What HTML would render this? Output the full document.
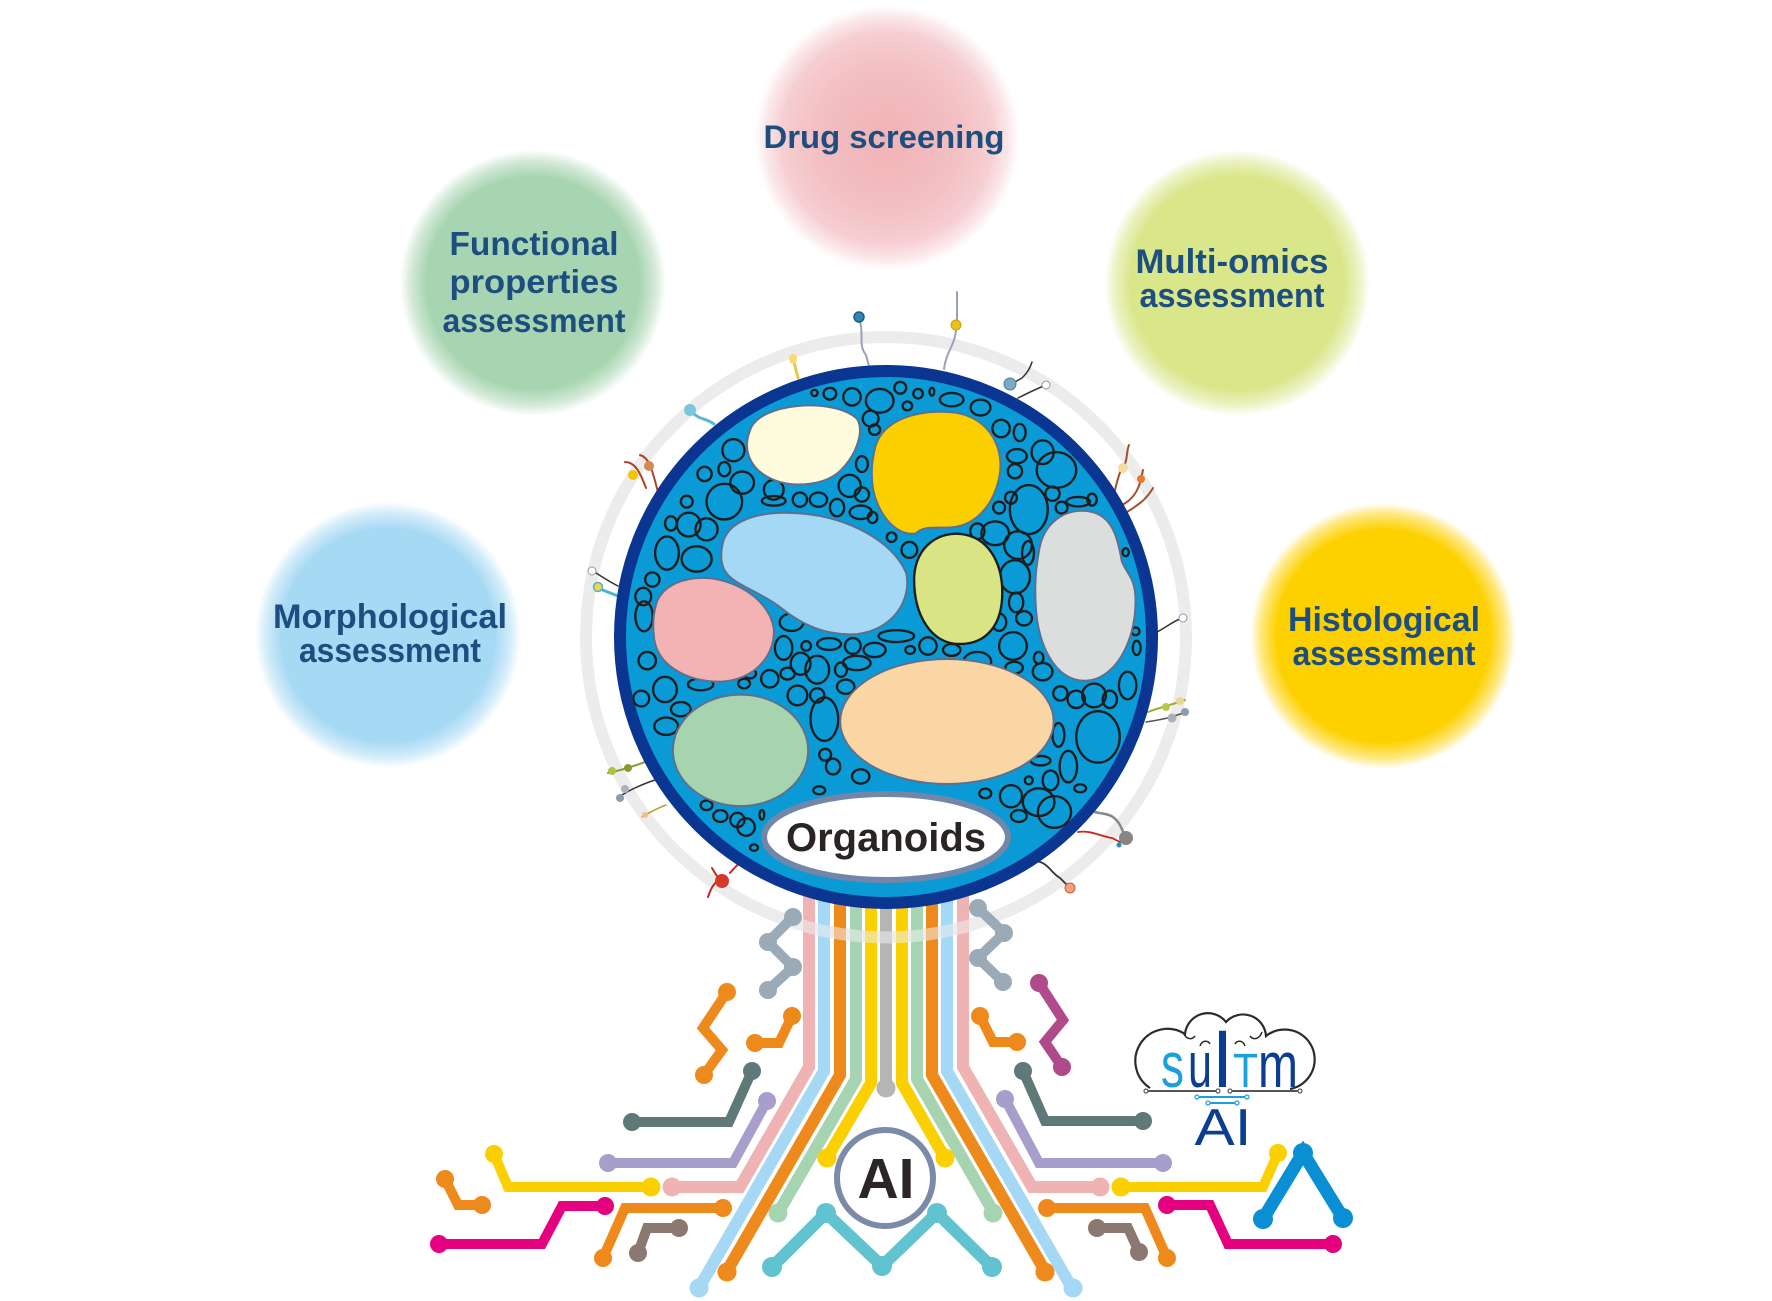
<!DOCTYPE html>
<html><head><meta charset="utf-8"><style>
html,body{margin:0;padding:0;background:#fff;}
svg{display:block;}
.t{font-family:"Liberation Sans",sans-serif;font-weight:bold;fill:#1c4e7f;text-anchor:middle;}
</style></head><body>
<svg width="1772" height="1301" viewBox="0 0 1772 1301" xmlns="http://www.w3.org/2000/svg">
<defs>
<radialGradient id="gDrug"><stop offset="0" stop-color="#f1b2b6"/><stop offset="0.55" stop-color="#f3c0c3"/><stop offset="0.8" stop-color="#f6cfd2"/><stop offset="0.92" stop-color="#f8dadd" stop-opacity="0.6"/><stop offset="1" stop-color="#fae4e6" stop-opacity="0"/></radialGradient>
<radialGradient id="gFun"><stop offset="0" stop-color="#a8d5b1"/><stop offset="0.8" stop-color="#a8d5b1"/><stop offset="0.92" stop-color="#a8d5b1" stop-opacity="0.5"/><stop offset="1" stop-color="#a8d5b1" stop-opacity="0"/></radialGradient>
<radialGradient id="gMul"><stop offset="0" stop-color="#d9e689"/><stop offset="0.8" stop-color="#d9e689"/><stop offset="0.92" stop-color="#d9e689" stop-opacity="0.5"/><stop offset="1" stop-color="#d9e689" stop-opacity="0"/></radialGradient>
<radialGradient id="gMor"><stop offset="0" stop-color="#a6d9f4"/><stop offset="0.8" stop-color="#a6d9f4"/><stop offset="0.92" stop-color="#a6d9f4" stop-opacity="0.5"/><stop offset="1" stop-color="#a6d9f4" stop-opacity="0"/></radialGradient>
<radialGradient id="gHis"><stop offset="0" stop-color="#fdd100"/><stop offset="0.8" stop-color="#fdd100"/><stop offset="0.92" stop-color="#fdd100" stop-opacity="0.5"/><stop offset="1" stop-color="#fdd100" stop-opacity="0"/></radialGradient>
<clipPath id="disk"><circle cx="886" cy="637" r="261"/></clipPath>
</defs>
<rect width="1772" height="1301" fill="#fff"/>

<!-- bubbles -->
<circle cx="887" cy="138" r="133" fill="url(#gDrug)"/>
<circle cx="533" cy="283" r="133" fill="url(#gFun)"/>
<circle cx="1237" cy="283" r="133" fill="url(#gMul)"/>
<circle cx="388" cy="635" r="133" fill="url(#gMor)"/>
<circle cx="1383" cy="636" r="133" fill="url(#gHis)"/>

<text class="t" x="884" y="148" font-size="32" textLength="241" lengthAdjust="spacingAndGlyphs">Drug screening</text>
<text class="t" x="534" y="255" font-size="33" textLength="169" lengthAdjust="spacingAndGlyphs">Functional</text>
<text class="t" x="534" y="293" font-size="33" textLength="169" lengthAdjust="spacingAndGlyphs">properties</text>
<text class="t" x="534" y="332" font-size="33" textLength="183" lengthAdjust="spacingAndGlyphs">assessment</text>
<text class="t" x="1232" y="273" font-size="34" textLength="193" lengthAdjust="spacingAndGlyphs">Multi-omics</text>
<text class="t" x="1232" y="307" font-size="34" textLength="185" lengthAdjust="spacingAndGlyphs">assessment</text>
<text class="t" x="390" y="628" font-size="34" textLength="234" lengthAdjust="spacingAndGlyphs">Morphological</text>
<text class="t" x="390" y="662" font-size="34" textLength="182" lengthAdjust="spacingAndGlyphs">assessment</text>
<text class="t" x="1384" y="631" font-size="34" textLength="192" lengthAdjust="spacingAndGlyphs">Histological</text>
<text class="t" x="1384" y="665" font-size="34" textLength="183" lengthAdjust="spacingAndGlyphs">assessment</text>

<!-- outer gray ring -->
<circle cx="886" cy="637" r="300" fill="none" stroke="#ececec" stroke-width="12"/>

<!-- cilia -->
<g stroke-linecap="round" fill="none">
<path d="M860,322 C864,335 858,345 866,355 L869,366" stroke="#9aa3b2" stroke-width="2"/>
<circle cx="859" cy="317" r="5" fill="#2e86b5" stroke="#1a5e86" stroke-width="1.5"/>
<path d="M957,292 L957,320 M956,330 C955,345 946,352 944,369" stroke="#9aa3b2" stroke-width="2"/>
<circle cx="956" cy="325" r="5" fill="#e8c21a" stroke="#c9a010" stroke-width="1"/>
<path d="M794,362 L798,378" stroke="#e8c64a" stroke-width="3"/>
<ellipse cx="793" cy="359" rx="4" ry="5" fill="#f6dc6c"/>
<path d="M693,413 C700,420 706,418 714,424" stroke="#5bb6d4" stroke-width="3"/>
<circle cx="690" cy="410" r="6" fill="#7cc6dc"/>
<path d="M625,462 C635,462 640,472 646,488 M640,455 C650,458 652,470 658,492" stroke="#b2402a" stroke-width="2"/>
<circle cx="633" cy="475" r="5" fill="#f5c400"/><circle cx="649" cy="466" r="5" fill="#d08a4a"/>
<path d="M596,573 C604,578 610,582 618,586" stroke="#333" stroke-width="1.5"/>
<circle cx="592" cy="571" r="4" fill="#fff" stroke="#999"/>
<path d="M600,589 L618,596" stroke="#4db3d6" stroke-width="3"/>
<circle cx="598" cy="587" r="4.5" fill="#f3d34a" stroke="#4db3d6" stroke-width="1.5"/>
<path d="M1015,382 L1022,378 C1028,372 1030,368 1032,362" stroke="#3a3030" stroke-width="1.5"/>
<circle cx="1010" cy="384" r="6" fill="#7aaac4" stroke="#4b7f9f"/>
<path d="M1018,398 C1030,392 1038,388 1044,386" stroke="#333" stroke-width="1.5"/>
<circle cx="1046" cy="385" r="4" fill="#fff" stroke="#999"/>
<path d="M1115,490 C1118,478 1120,470 1123,468 C1128,460 1126,452 1129,445 M1122,505 C1132,500 1138,492 1141,479 L1143,470 M1127,512 C1138,505 1146,500 1153,488" stroke="#a0502a" stroke-width="2"/>
<circle cx="1123" cy="468" r="5" fill="#f3dca0"/><circle cx="1141" cy="479" r="4" fill="#e57c2c"/>
<path d="M1157,632 C1165,628 1172,622 1180,619" stroke="#333" stroke-width="1.5"/>
<circle cx="1183" cy="618" r="4" fill="#fff" stroke="#999"/>
<path d="M1148,712 C1158,708 1168,706 1185,700" stroke="#9cae3c" stroke-width="2"/>
<circle cx="1166" cy="707" r="4" fill="#b8c84a"/><circle cx="1180" cy="701" r="4" fill="#e8d890"/>
<path d="M1146,722 C1160,720 1170,718 1186,712" stroke="#555" stroke-width="1.5"/>
<circle cx="1172" cy="718" r="4.5" fill="#aab0bc"/><circle cx="1185" cy="712" r="4" fill="#8e9aae"/>
<path d="M1095,812 C1105,815 1112,812 1120,825 L1126,838" stroke="#888" stroke-width="2.5"/>
<circle cx="1126" cy="838" r="7" fill="#8a8585"/>
<path d="M1078,832 C1090,830 1100,836 1112,838 L1120,842" stroke="#c8281e" stroke-width="1.8"/>
<circle cx="1119" cy="845" r="2.5" fill="#1c8ed0"/>
<path d="M1035,861 C1048,862 1050,872 1060,878 L1068,886" stroke="#333" stroke-width="1.8"/>
<circle cx="1070" cy="888" r="5" fill="#f4a07a" stroke="#c0603a"/>
<path d="M708,897 C712,885 716,880 722,881 M730,873 C736,866 740,862 745,860 M712,868 C716,875 718,878 722,881" stroke="#c8281e" stroke-width="2"/>
<circle cx="722" cy="881" r="7" fill="#d6382a"/>
<path d="M608,773 C618,771 630,768 650,760" stroke="#8b9a30" stroke-width="2"/>
<circle cx="612" cy="771" r="4" fill="#b0c040"/><circle cx="628" cy="768" r="4" fill="#8b9a30"/>
<path d="M622,795 C630,790 640,785 655,780" stroke="#333" stroke-width="1.5"/>
<circle cx="625" cy="789" r="4" fill="#aab2c0"/><circle cx="620" cy="798" r="4" fill="#8e9aae"/>
<path d="M642,817 C650,812 658,808 666,805" stroke="#b8a030" stroke-width="1.5"/>
<circle cx="645" cy="815" r="3" fill="#f0c088"/>
</g>

<!-- main bundle -->
<g fill="none" stroke-width="12" stroke-linejoin="miter">
<path d="M809,880 V1067 L740,1187 H672" stroke="#f0b3b3"/>
<path d="M824,880 V1071 L699,1288" stroke="#a5d8f4"/>
<path d="M840,880 V1075 L727,1271" stroke="#ee8a1c"/>
<path d="M856,880 V1079 L778,1213" stroke="#a7d4b0"/>
<path d="M871,880 V1083 L827,1158" stroke="#fbd000"/>
<path d="M886,880 V1088" stroke="#b5b5b5"/>
<path d="M902,880 V1083 L945,1158" stroke="#fbd000"/>
<path d="M917,880 V1079 L994,1213" stroke="#a7d4b0"/>
<path d="M932,880 V1075 L1045,1271" stroke="#ee8a1c"/>
<path d="M947,880 V1071 L1072,1288" stroke="#a5d8f4"/>
<path d="M963,880 V1067 L1032,1187 H1100" stroke="#f0b3b3"/>
</g>
<g>
<circle cx="672" cy="1187" r="9.5" fill="#f0b3b3"/>
<circle cx="699" cy="1288" r="9.5" fill="#a5d8f4"/>
<circle cx="727" cy="1272" r="9.5" fill="#ee8a1c"/>
<circle cx="778" cy="1213" r="9.5" fill="#a7d4b0"/>
<circle cx="827" cy="1158" r="9.5" fill="#fbd000"/>
<circle cx="886" cy="1088" r="9.5" fill="#b5b5b5"/>
<circle cx="945" cy="1158" r="9.5" fill="#fbd000"/>
<circle cx="993" cy="1213" r="9.5" fill="#a7d4b0"/>
<circle cx="1045" cy="1272" r="9.5" fill="#ee8a1c"/>
<circle cx="1073" cy="1288" r="9.5" fill="#a5d8f4"/>
<circle cx="1100" cy="1187" r="9.5" fill="#f0b3b3"/>
</g>
<!-- ring overlay across bundle -->
<path d="M780,918 A300 300 0 0 0 992,918" fill="none" stroke="#eeeeee" stroke-opacity="0.55" stroke-width="12"/>

<!-- other circuit traces -->
<g fill="none" stroke-width="10" stroke-linejoin="miter">
<path d="M793,917 L768,942 L793,967 L768,990" stroke="#9aabb7"/>
<path d="M727,992 L703,1028 L722,1050 L704,1075" stroke="#ee8a1c"/>
<path d="M792,1016 L779,1043 H755" stroke="#ee8a1c"/>
<path d="M752,1071 L729,1122 H632" stroke="#5e7977"/>
<path d="M767,1101 L733,1163 H608" stroke="#a89ecb"/>
<path d="M494,1154 L508,1187 H651" stroke="#fbd000"/>
<path d="M445,1179 L458,1205 H482" stroke="#ee8a1c"/>
<path d="M605,1206 H562 L542,1244 H439" stroke="#e4007f"/>
<path d="M723,1208 H625 L603,1258" stroke="#ee8a1c"/>
<path d="M679,1228 H647 L638,1253" stroke="#8b7870"/>
<path d="M772,1267 L826,1213 L882,1266 L937,1213 L992,1267" stroke="#62c3d0" stroke-width="12"/>
<path d="M978,908 L1004,933 L978,958 L1003,982" stroke="#9aabb7"/>
<path d="M1039,983 L1063,1020 L1045,1042 L1062,1067" stroke="#b04a8a"/>
<path d="M980,1016 L993,1042 H1017" stroke="#ee8a1c"/>
<path d="M1023,1071 L1045,1121 H1143" stroke="#5e7977"/>
<path d="M1005,1099 L1039,1163 H1163" stroke="#a89ecb"/>
<path d="M1121,1187 H1263 L1278,1153" stroke="#fbd000"/>
<path d="M1263,1219 L1303,1153 L1343,1218" stroke="#0a8fd4" stroke-width="13"/>
<path d="M1047,1208 H1145 L1167,1258" stroke="#ee8a1c"/>
<path d="M1167,1205 H1210 L1228,1244 H1333" stroke="#e4007f"/>
<path d="M1097,1228 H1128 L1139,1252" stroke="#8b7870"/>
</g>
<g>
<g fill="#9aabb7"><circle cx="793" cy="917" r="9"/><circle cx="768" cy="942" r="9"/><circle cx="793" cy="967" r="9"/><circle cx="768" cy="990" r="9"/>
<circle cx="978" cy="908" r="9"/><circle cx="1004" cy="933" r="9"/><circle cx="978" cy="958" r="9"/><circle cx="1003" cy="982" r="9"/></g>
<g fill="#ee8a1c"><circle cx="727" cy="992" r="9"/><circle cx="704" cy="1075" r="9"/><circle cx="792" cy="1016" r="9"/><circle cx="755" cy="1043" r="9"/>
<circle cx="445" cy="1179" r="9"/><circle cx="482" cy="1205" r="9"/><circle cx="723" cy="1208" r="9"/><circle cx="603" cy="1258" r="9"/>
<circle cx="980" cy="1016" r="9"/><circle cx="1017" cy="1042" r="9"/><circle cx="1047" cy="1208" r="9"/><circle cx="1167" cy="1258" r="9"/></g>
<g fill="#5e7977"><circle cx="752" cy="1071" r="9"/><circle cx="632" cy="1122" r="9"/><circle cx="1023" cy="1071" r="9"/><circle cx="1143" cy="1121" r="9"/></g>
<g fill="#a89ecb"><circle cx="767" cy="1101" r="9"/><circle cx="608" cy="1163" r="9"/><circle cx="1005" cy="1099" r="9"/><circle cx="1163" cy="1163" r="9"/></g>
<g fill="#fbd000"><circle cx="494" cy="1154" r="9"/><circle cx="651" cy="1187" r="9.5"/><circle cx="1121" cy="1187" r="9.5"/><circle cx="1278" cy="1153" r="9"/></g>
<g fill="#e4007f"><circle cx="605" cy="1206" r="9"/><circle cx="439" cy="1244" r="9"/><circle cx="1167" cy="1205" r="9"/><circle cx="1333" cy="1244" r="9"/></g>
<g fill="#8b7870"><circle cx="679" cy="1228" r="9"/><circle cx="638" cy="1253" r="9"/><circle cx="1097" cy="1228" r="9"/><circle cx="1139" cy="1252" r="9"/></g>
<g fill="#b04a8a"><circle cx="1039" cy="983" r="9"/><circle cx="1062" cy="1067" r="9"/></g>
<g fill="#62c3d0"><circle cx="772" cy="1267" r="10"/><circle cx="826" cy="1213" r="10"/><circle cx="882" cy="1266" r="10"/><circle cx="937" cy="1213" r="10"/><circle cx="992" cy="1267" r="10"/></g>
<g fill="#0a8fd4"><circle cx="1263" cy="1219" r="10"/><circle cx="1303" cy="1153" r="10"/><circle cx="1343" cy="1218" r="10"/></g>
</g>

<!-- AI ring -->
<circle cx="885" cy="1178" r="48" fill="#fff" stroke="#7a8aa8" stroke-width="6"/>
<text x="886" y="1198" font-family="Liberation Sans, sans-serif" font-weight="bold" font-size="57" fill="#2b2625" text-anchor="middle" textLength="57" lengthAdjust="spacingAndGlyphs">AI</text>

<!-- main organoid disk -->
<circle cx="886" cy="637" r="266" fill="#0a9ad6" stroke="#0a3590" stroke-width="12"/>
<g clip-path="url(#disk)">
<g transform="translate(580,300) scale(0.3954)">
<g fill="none" stroke="#1e1e1e" stroke-width="6">
<ellipse cx="593" cy="235" rx="8" ry="8"/><ellipse cx="632" cy="237" rx="16" ry="15"/><ellipse cx="688" cy="245" rx="22" ry="22"/><ellipse cx="758" cy="255" rx="35" ry="30"/><ellipse cx="810" cy="222" rx="15" ry="15"/><ellipse cx="828" cy="268" rx="12" ry="11"/><ellipse cx="855" cy="237" rx="12" ry="12"/><ellipse cx="890" cy="232" rx="6" ry="10"/><ellipse cx="940" cy="252" rx="30" ry="17"/><ellipse cx="1013" cy="272" rx="25" ry="20"/><ellipse cx="735" cy="300" rx="20" ry="20"/><ellipse cx="745" cy="328" rx="14" ry="13"/>
<ellipse cx="388" cy="380" rx="28" ry="28"/><ellipse cx="365" cy="428" rx="15" ry="18"/><ellipse cx="315" cy="440" rx="18" ry="18"/><ellipse cx="410" cy="462" rx="30" ry="28"/><ellipse cx="490" cy="480" rx="25" ry="25"/><ellipse cx="490" cy="508" rx="30" ry="12"/><ellipse cx="365" cy="510" rx="45" ry="45"/><ellipse cx="270" cy="510" rx="15" ry="15"/><ellipse cx="230" cy="565" rx="15" ry="18"/><ellipse cx="275" cy="568" rx="30" ry="30"/><ellipse cx="320" cy="580" rx="28" ry="28"/><ellipse cx="220" cy="640" rx="30" ry="42"/><ellipse cx="295" cy="655" rx="38" ry="32"/><ellipse cx="183" cy="707" rx="18" ry="18"/><ellipse cx="160" cy="750" rx="20" ry="22"/><ellipse cx="162" cy="800" rx="22" ry="38"/><ellipse cx="170" cy="912" rx="22" ry="22"/><ellipse cx="155" cy="1008" rx="20" ry="20"/><ellipse cx="215" cy="985" rx="30" ry="32"/><ellipse cx="255" cy="1035" rx="25" ry="18"/><ellipse cx="218" cy="1078" rx="30" ry="22"/>
<ellipse cx="713" cy="415" rx="15" ry="20"/><ellipse cx="682" cy="470" rx="28" ry="28"/><ellipse cx="713" cy="492" rx="18" ry="18"/><ellipse cx="650" cy="525" rx="18" ry="22"/><ellipse cx="556" cy="505" rx="18" ry="18"/><ellipse cx="603" cy="505" rx="22" ry="18"/><ellipse cx="710" cy="537" rx="28" ry="17"/><ellipse cx="740" cy="550" rx="12" ry="14"/>
<ellipse cx="1065" cy="325" rx="22" ry="22"/><ellipse cx="1112" cy="335" rx="15" ry="22"/><ellipse cx="1105" cy="395" rx="25" ry="18"/><ellipse cx="1100" cy="433" rx="18" ry="18"/><ellipse cx="1170" cy="385" rx="28" ry="30"/><ellipse cx="1205" cy="430" rx="50" ry="45"/><ellipse cx="1195" cy="490" rx="18" ry="18"/><ellipse cx="1218" cy="525" rx="15" ry="15"/><ellipse cx="1260" cy="510" rx="30" ry="12"/><ellipse cx="1295" cy="505" rx="12" ry="15"/><ellipse cx="1090" cy="500" rx="15" ry="15"/><ellipse cx="1135" cy="530" rx="48" ry="62"/><ellipse cx="1060" cy="525" rx="15" ry="15"/><ellipse cx="1050" cy="590" rx="35" ry="30"/><ellipse cx="1005" cy="585" rx="18" ry="20"/><ellipse cx="1108" cy="620" rx="35" ry="35"/><ellipse cx="1133" cy="640" rx="15" ry="30"/><ellipse cx="1100" cy="700" rx="38" ry="42"/><ellipse cx="1103" cy="765" rx="18" ry="25"/><ellipse cx="1060" cy="815" rx="18" ry="22"/><ellipse cx="1123" cy="805" rx="20" ry="18"/><ellipse cx="1095" cy="875" rx="35" ry="35"/><ellipse cx="1160" cy="905" rx="12" ry="15"/><ellipse cx="1098" cy="930" rx="22" ry="15"/><ellipse cx="1170" cy="940" rx="25" ry="22"/><ellipse cx="1380" cy="638" rx="8" ry="10"/><ellipse cx="1405" cy="838" rx="10" ry="10"/><ellipse cx="1408" cy="880" rx="10" ry="18"/>
<ellipse cx="788" cy="600" rx="12" ry="12"/><ellipse cx="833" cy="632" rx="20" ry="20"/><ellipse cx="535" cy="815" rx="30" ry="22"/><ellipse cx="515" cy="880" rx="22" ry="30"/><ellipse cx="572" cy="875" rx="12" ry="12"/><ellipse cx="630" cy="870" rx="30" ry="15"/><ellipse cx="690" cy="875" rx="20" ry="20"/><ellipse cx="745" cy="885" rx="28" ry="18"/><ellipse cx="800" cy="850" rx="45" ry="15"/><ellipse cx="835" cy="885" rx="12" ry="10"/><ellipse cx="880" cy="875" rx="22" ry="22"/><ellipse cx="940" cy="885" rx="22" ry="15"/><ellipse cx="1005" cy="915" rx="35" ry="25"/><ellipse cx="558" cy="920" rx="25" ry="28"/><ellipse cx="600" cy="935" rx="30" ry="35"/><ellipse cx="660" cy="935" rx="15" ry="18"/><ellipse cx="700" cy="918" rx="35" ry="18"/><ellipse cx="525" cy="945" rx="18" ry="15"/><ellipse cx="480" cy="958" rx="22" ry="22"/><ellipse cx="430" cy="945" rx="15" ry="12"/><ellipse cx="415" cy="970" rx="15" ry="12"/><ellipse cx="305" cy="972" rx="32" ry="15"/><ellipse cx="550" cy="1000" rx="25" ry="25"/><ellipse cx="600" cy="1000" rx="18" ry="18"/><ellipse cx="672" cy="978" rx="22" ry="18"/><ellipse cx="618" cy="1060" rx="35" ry="55"/><ellipse cx="620" cy="1150" rx="15" ry="15"/><ellipse cx="640" cy="1180" rx="18" ry="20"/><ellipse cx="710" cy="1205" rx="22" ry="18"/><ellipse cx="605" cy="1240" rx="15" ry="10"/>
<ellipse cx="1215" cy="995" rx="18" ry="18"/><ellipse cx="1255" cy="1010" rx="22" ry="22"/><ellipse cx="1300" cy="1000" rx="30" ry="30"/><ellipse cx="1340" cy="1010" rx="18" ry="22"/><ellipse cx="1385" cy="975" rx="22" ry="35"/><ellipse cx="1210" cy="1100" rx="15" ry="30"/><ellipse cx="1310" cy="1105" rx="55" ry="65"/><ellipse cx="1165" cy="1165" rx="25" ry="12"/><ellipse cx="1190" cy="1215" rx="20" ry="25"/><ellipse cx="1135" cy="1215" rx="10" ry="10"/><ellipse cx="1235" cy="1180" rx="22" ry="40"/><ellipse cx="1090" cy="1255" rx="28" ry="28"/><ellipse cx="1025" cy="1248" rx="15" ry="12"/><ellipse cx="1160" cy="1270" rx="40" ry="35"/><ellipse cx="1200" cy="1295" rx="42" ry="40"/><ellipse cx="1265" cy="1235" rx="15" ry="10"/><ellipse cx="1110" cy="1305" rx="20" ry="15"/>
<ellipse cx="320" cy="1278" rx="15" ry="12"/><ellipse cx="355" cy="1305" rx="18" ry="15"/><ellipse cx="398" cy="1315" rx="18" ry="18"/><ellipse cx="420" cy="1333" rx="22" ry="22"/><ellipse cx="460" cy="1302" rx="6" ry="12"/><ellipse cx="440" cy="1385" rx="10" ry="8"/>
</g>
<g stroke="#5f6f8e" stroke-width="5">
<path d="M430,330 C450,260 640,245 700,300 C720,330 700,390 660,430 C620,470 540,475 490,455 C430,430 410,380 430,330 Z" fill="#fffbdd"/>
<path d="M745,380 C760,300 860,275 950,285 C1040,300 1075,380 1060,450 C1045,520 1000,570 940,575 C900,578 870,570 850,590 C800,600 750,540 740,470 C735,430 740,400 745,380 Z" fill="#fcd000"/>
<path d="M360,620 C370,560 450,530 560,540 C680,550 790,610 825,690 C840,760 790,835 700,845 C620,850 560,820 510,780 C460,740 390,720 370,690 C355,670 355,645 360,620 Z" fill="#a5d8f4"/>
<path d="M190,780 C200,720 270,695 340,705 C420,720 480,770 490,830 C495,900 440,960 360,965 C280,968 200,930 188,860 C184,830 185,800 190,780 Z" fill="#f2b3b2"/>
<path d="M1160,640 C1170,560 1230,525 1290,535 C1345,545 1360,600 1370,660 C1380,690 1405,700 1405,760 C1405,870 1350,960 1280,963 C1200,965 1155,870 1152,760 C1150,700 1155,670 1160,640 Z" fill="#dcdddd"/>
<ellipse cx="928" cy="1066" rx="270" ry="158" fill="#f9d6a3"/>
<ellipse cx="406" cy="1139" rx="171" ry="141" fill="#a6d4ae"/>
</g>
<path d="M845,700 C850,620 910,585 965,592 C1030,600 1068,660 1068,740 C1068,820 1030,870 960,870 C890,870 843,800 845,700 Z" fill="#d9e585" stroke="#1e1e1e" stroke-width="6"/>
</g>
</g>

<!-- Organoids label -->
<ellipse cx="886" cy="837" rx="122" ry="43" fill="#fff" stroke="#7286a8" stroke-width="6"/>
<text x="886" y="851" font-family="Liberation Sans, sans-serif" font-weight="bold" font-size="40" fill="#2a2422" text-anchor="middle" textLength="200" lengthAdjust="spacingAndGlyphs">Organoids</text>

<!-- logo -->
<g>
<path d="M1150,1088 A32 32 0 0 1 1185,1034 A23 23 0 0 1 1226,1022 A23 23 0 0 1 1266,1036 A30 30 0 1 1 1290,1089" fill="none" stroke="#2b2b2b" stroke-width="2.2"/>
<g fill="none" stroke="#2b2b2b" stroke-width="1.5">
<path d="M1183,1032 C1186,1040 1192,1040 1195,1036"/><path d="M1200,1046 C1202,1040 1208,1040 1210,1044"/>
<path d="M1262,1032 C1259,1040 1253,1040 1250,1036"/><path d="M1245,1046 C1243,1040 1237,1040 1235,1044"/>
</g>
<g font-family="Liberation Sans, sans-serif">
<text x="1161" y="1087" font-size="64" fill="#1aa0dc" textLength="23" lengthAdjust="spacingAndGlyphs">s</text>
<text x="1188" y="1087" font-size="64" fill="#0b3d91" textLength="24" lengthAdjust="spacingAndGlyphs">u</text>
<text x="1212" y="1087" font-size="82" fill="#0b3d91" textLength="21" lengthAdjust="spacingAndGlyphs">I</text>
<text x="1233" y="1087" font-size="48" fill="#1aa0dc" textLength="25" lengthAdjust="spacingAndGlyphs">T</text>
<text x="1258" y="1087" font-size="64" fill="#0b3d91" textLength="40" lengthAdjust="spacingAndGlyphs">m</text>
</g>
<g stroke-width="2" fill="none">
<path d="M1146,1091 H1218 M1230,1091 H1300" stroke="#555"/>
<path d="M1197,1097 H1247 M1208,1103 H1237" stroke="#1aa0dc"/>
</g>
<g fill="#fff" stroke="#555" stroke-width="1.2"><circle cx="1146" cy="1091" r="2"/><circle cx="1218" cy="1091" r="2"/><circle cx="1230" cy="1091" r="2"/><circle cx="1300" cy="1091" r="2"/></g>
<g fill="#fff" stroke="#1aa0dc" stroke-width="1.2"><circle cx="1197" cy="1097" r="2"/><circle cx="1247" cy="1097" r="2"/><circle cx="1208" cy="1103" r="2"/><circle cx="1237" cy="1103" r="2"/></g>
<text x="1223" y="1145" font-family="Liberation Sans, sans-serif" font-size="52" fill="#0b3d91" text-anchor="middle" textLength="57" lengthAdjust="spacingAndGlyphs">AI</text>
</g>
</svg>
</body></html>
